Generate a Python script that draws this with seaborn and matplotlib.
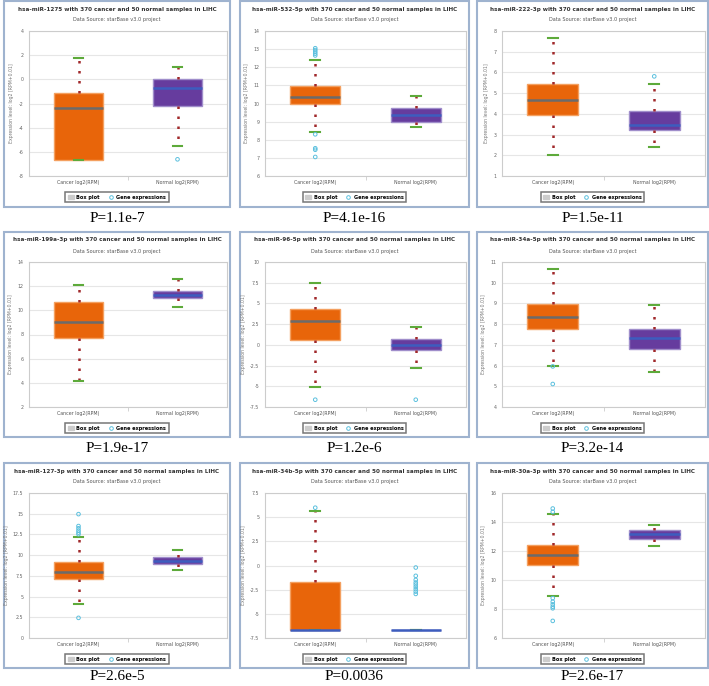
import numpy as np
import pandas as pd
import matplotlib
matplotlib.use("Agg")
import matplotlib.pyplot as plt
from matplotlib.patches import Rectangle, Patch
from matplotlib.lines import Line2D
import seaborn as sns

# panel titles and p-values
mirnas = ["hsa-miR-1275", "hsa-miR-532-5p", "hsa-miR-222-3p",
          "hsa-miR-199a-3p", "hsa-miR-96-5p", "hsa-miR-34a-5p",
          "hsa-miR-127-3p", "hsa-miR-34b-5p", "hsa-miR-30a-3p"]
p_values = ["P=1.1e-7", "P=4.1e-16", "P=1.5e-11",
            "P=1.9e-17", "P=1.2e-6", "P=3.2e-14",
            "P=2.6e-5", "P=0.0036", "P=2.6e-17"]
groups = ["Cancer log2(RPM)", "Normal log2(RPM)"]

# whisker low, Q1, median, Q3, whisker high
cancer_stats = [
    [-6.68, -6.68, -2.41, -1.17, 1.80],
    [8.44, 9.95, 10.36, 10.95, 12.40],
    [2.00, 3.93, 4.69, 5.46, 7.68],
    [4.18, 7.69, 9.07, 10.68, 12.12],
    [-5.10, 0.59, 2.87, 4.34, 7.45],
    [5.98, 7.77, 8.34, 8.97, 10.65],
    [4.11, 7.14, 7.97, 9.21, 12.24],
    [-6.64, -6.64, -6.64, -1.69, 5.60],
    [8.91, 11.05, 11.70, 12.43, 14.57],
]
normal_stats = [
    [-5.52, -2.22, -0.68, 0.00, 1.03],
    [8.69, 8.98, 9.36, 9.73, 10.42],
    [2.42, 3.20, 3.48, 4.12, 5.43],
    [10.30, 10.98, 11.30, 11.63, 12.56],
    [-2.75, -0.68, 0.04, 0.67, 2.19],
    [5.71, 6.80, 7.33, 7.75, 8.91],
    [8.17, 8.93, 9.33, 9.73, 10.57],
    [-6.64, -6.64, -6.64, -6.64, -6.64],
    [12.36, 12.86, 13.18, 13.48, 13.82],
]
cancer_outliers = [
    [],
    [13.05, 12.95, 12.85, 12.75, 12.65, 8.30, 7.53, 7.45, 7.05],
    [],
    [],
    [-6.62],
    [5.96, 5.11],
    [14.95, 13.51, 13.24, 12.96, 12.72, 12.52, 2.43],
    [5.98],
    [14.93, 14.70, 8.75, 8.50, 8.32, 8.16, 8.05, 7.18],
]
normal_outliers = [
    [-6.62],
    [],
    [5.81],
    [],
    [-6.62],
    [],
    [],
    [-0.21, -1.07, -1.49, -1.76, -1.97, -2.21, -2.45, -2.70, -2.94],
    [],
]
# y axis: low, high, step
y_axes = [(-8, 4, 2), (6, 14, 1), (1, 8, 1),
          (2, 14, 2), (-7.5, 10, 2.5), (4, 11, 1),
          (0, 17.5, 2.5), (-7.5, 7.5, 2.5), (6, 16, 2)]

W, H = 709, 686
fig = plt.figure(figsize=(W / 100, H / 100), dpi=100)
fig.patch.set_facecolor("white")

col_x = [(4, 230), (240, 469), (477, 708)]
row_y = [(1, 207), (232, 437), (463, 668)]
p_y = [219, 448, 677]

box_fill = ["#E8650A", "#663C9E"]
box_edge = ["#F4A060", "#A08ECB"]
med_col = ["#6B6B6B", "#3D5DBE"]
cyan = "#5BC0DE"

for i in range(9):
    r, c = divmod(i, 3)
    x0, x1 = col_x[c]
    y0, y1 = row_y[r]
    cx = (x0 + x1) / 2

    # card
    fig.add_artist(Rectangle((x0 / W, 1 - y1 / H), (x1 - x0) / W, (y1 - y0) / H,
                             transform=fig.transFigure, facecolor="white",
                             edgecolor="#9FB3CF", linewidth=1.5, zorder=0))
    fig.text(cx / W, 1 - (y0 + 8) / H,
             mirnas[i] + " with 370 cancer and 50 normal samples in LIHC",
             ha="center", va="center", fontsize=4.1, fontweight="bold", color="#333333")
    fig.text(cx / W, 1 - (y0 + 19) / H, "Data Source: starBase v3.0 project",
             ha="center", va="center", fontsize=3.6, color="#555555")
    fig.text(cx / W, 1 - p_y[r] / H, p_values[i], ha="center", va="center",
             fontsize=11, family="Liberation Serif", color="black")

    left, right = x0 + 25, x1 - 3
    top, bottom = y0 + 30, y0 + 175
    ax = fig.add_axes([left / W, 1 - bottom / H, (right - left) / W, (bottom - top) / H])

    df = pd.DataFrame({"group": [groups[0]] * 5 + [groups[1]] * 5,
                       "value": cancer_stats[i] + normal_stats[i]})
    for k, g in enumerate(groups):
        st = cancer_stats[i] if k == 0 else normal_stats[i]
        mc = med_col[k]
        if k == 0 and st[1] == st[2]:
            mc = med_col[1]
        sns.boxplot(data=df[df["group"] == g], x="group", y="value", order=groups,
                    whis=(0, 100), width=0.5, color=box_fill[k], saturation=1,
                    linecolor=box_edge[k], linewidth=1, showfliers=False,
                    medianprops=dict(color=mc, linewidth=1.8, zorder=4),
                    whiskerprops=dict(color="#A0282A", linestyle=(0, (1, 3)), linewidth=1.8),
                    capprops=dict(color="#5DAA3A", linewidth=1.5),
                    capwidths=0.1, ax=ax)

    out = pd.DataFrame({"group": [groups[0]] * len(cancer_outliers[i]) + [groups[1]] * len(normal_outliers[i]),
                        "value": cancer_outliers[i] + normal_outliers[i]})
    if len(out):
        sns.stripplot(data=out, x="group", y="value", order=groups, jitter=False,
                      size=2.6, ax=ax)
        for coll in ax.collections:
            coll.set_facecolor("none")
            coll.set_edgecolor(cyan)
            coll.set_linewidth(0.7)
            coll.set_zorder(5)

    lo, hi, step = y_axes[i]
    ax.set_ylim(lo, hi)
    ax.set_yticks(np.arange(lo, hi + step / 2, step))
    ax.set_yticklabels([f"{v:g}" for v in np.arange(lo, hi + step / 2, step)])
    ax.set_xlim(-0.5, 1.5)
    ax.set_xticks([0, 1])
    ax.set_xticklabels(groups)
    ax.set_xticks([0.5], minor=True)
    ax.set_xlabel("")
    ax.set_ylabel("Expression level: log2 [RPM+0.01]", fontsize=3.3, color="#777777", labelpad=3)
    ax.grid(axis="y", color="#E6E6E6", linewidth=0.8)
    ax.set_axisbelow(True)
    for s in ax.spines.values():
        s.set_color("#CCCCCC")
        s.set_linewidth(0.8)
    ax.tick_params(axis="y", length=0, labelsize=3.4, labelcolor="#666666", pad=4)
    ax.tick_params(axis="x", which="major", length=0, labelsize=3.4, labelcolor="#555555", pad=3)
    ax.tick_params(axis="x", which="minor", length=3, color="#CCCCCC")

    handles = [Patch(facecolor="#CCCCCC", edgecolor="#CCCCCC"),
               Line2D([], [], linestyle="none", marker="o", markersize=2.6,
                      markerfacecolor="none", markeredgecolor=cyan, markeredgewidth=0.7)]
    axw = right - left
    leg = ax.legend(handles, ["Box plot", "Gene expressions"], ncol=2,
                    loc="upper center", bbox_to_anchor=(0.5 - 11 / axw, -0.095),
                    prop={"weight": "bold", "size": 3.6}, frameon=True, fancybox=False,
                    handlelength=1.2, handleheight=0.9, handletextpad=0.5,
                    columnspacing=1.6, borderpad=0.5)
    leg.get_frame().set_edgecolor("#555555")
    leg.get_frame().set_linewidth(1.1)

fig.savefig("out.png", dpi=100)
